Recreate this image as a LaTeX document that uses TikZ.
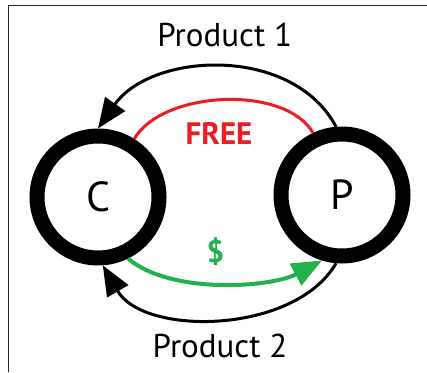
\documentclass[tikz,border=0pt]{standalone}
\usepackage{fontspec}
\setmainfont{PT Sans}
\usetikzlibrary{arrows.meta}
\definecolor{freered}{RGB}{237,28,36}
\definecolor{cashgreen}{RGB}{34,177,76}

\begin{document}
\begin{tikzpicture}[x=1pt,y=1pt,
  party/.style={circle,draw,line width=15pt,minimum size=122pt,inner sep=0pt,font=\fontsize{42}{42}\selectfont},
  flow/.style={line width=3pt},
  tip/.style={-{Triangle[length=30pt,width=24pt]}},
  lbl/.style={anchor=base,inner sep=0pt,font=\fontsize{33}{33}\selectfont}]
\useasboundingbox (0,0) rectangle (427,372);

%frame
\draw [line width=1.5pt, black!85] (8.5,0)--(8.5,366.5)--(427,366.5);

%C and P
\node [party] (C) at (98,175) {C};
\node [party] (P) at (342,177) {P};

%product 1
\draw [flow, tip] (P.95) to[out=118,in=55,looseness=1] (C.90);
\node [lbl] (prodA) at (224.7,325.3) {Product 1};

%free
\draw [flow, freered] (C.58) to[out=60,in=120,looseness=0.8] (P.115);
\node [lbl, freered, font=\fontsize{31}{31}\selectfont\bfseries] (free) at (219,227) {FREE};

%$
\draw [flow, line width=4pt, cashgreen, tip] (C.-64) to[out=-40,in=-152,looseness=0.75] (P.-107);
\node [cashgreen, font=\fontsize{31}{31}\selectfont\bfseries] (cash) at (215.5,120) {\$};

%product 2
\draw [flow, tip] (P.-95) to[out=-120,in=-60,looseness=0.9] (C.-86);
\node [lbl] (prodB) at (220,15) {Product 2};
\end{tikzpicture}
\end{document}
